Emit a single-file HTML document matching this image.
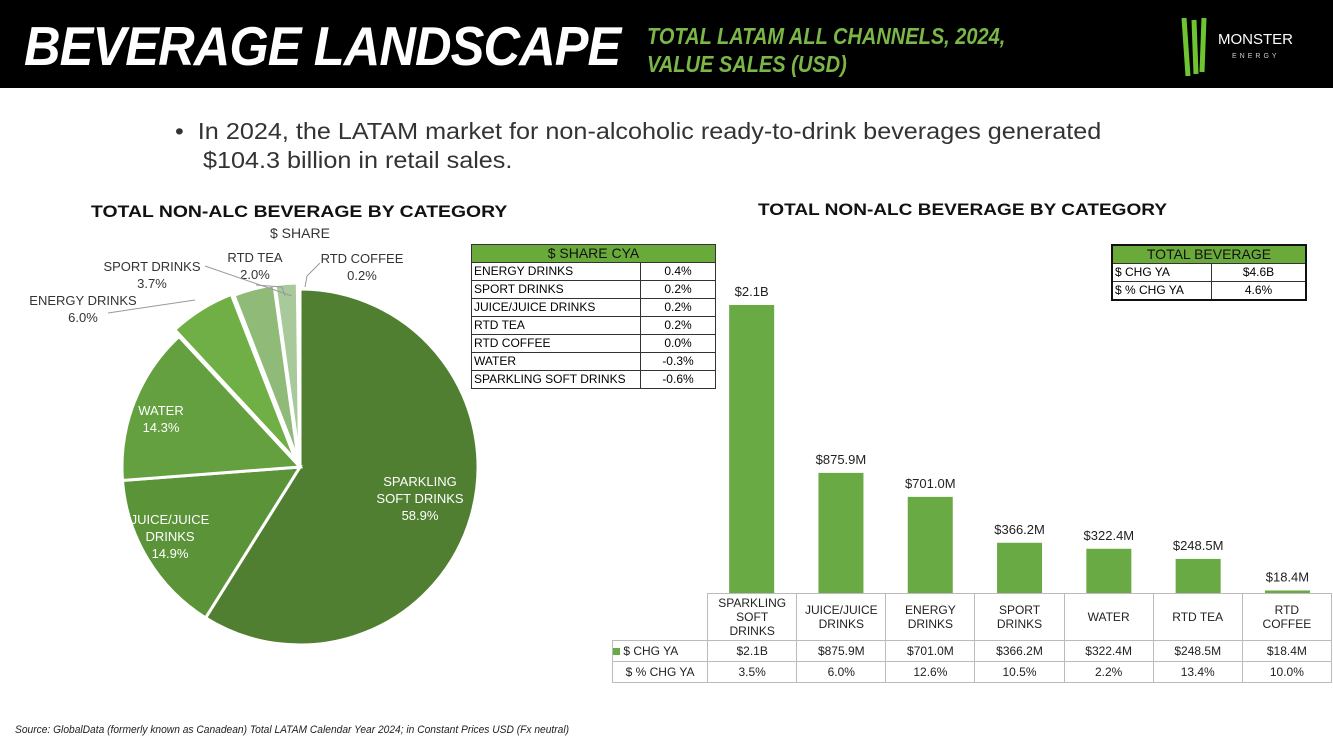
<!DOCTYPE html>
<html><head><meta charset="utf-8"><style>
body{margin:0;width:1333px;height:749px;overflow:hidden;background:#fff;font-family:"Liberation Sans",sans-serif;position:relative}
.abs{position:absolute}
table{border-collapse:collapse}
.t1 td{border:1px solid #333;font-size:12px;height:17px;padding:0 2px;line-height:17px}
.t3{table-layout:fixed}
.t3 td{border:1px solid #bbb;font-size:12px;text-align:center;color:#222;padding:0}
</style></head><body>
<div class="abs" style="left:0;top:0;width:1333px;height:88px;background:#000"></div>
<div class="abs" style="left:24px;top:14px;color:#fff;font-size:55px;font-weight:bold;font-style:italic;letter-spacing:-1px;transform:scaleX(0.92);transform-origin:left">BEVERAGE LANDSCAPE</div>
<div class="abs" style="left:647px;top:22px;color:#7ab648;font-size:23px;font-weight:bold;font-style:italic;line-height:28px;transform:scaleX(0.87);transform-origin:left">TOTAL LATAM ALL CHANNELS, 2024,<br>VALUE SALES (USD)</div>
<div class="abs" style="left:1178px;top:16px;width:140px;height:62px">
<svg width="140" height="62"><path d="M6 2 L10 60 M16 4 L18 58 M26 2 L24 56" stroke="#6ec531" stroke-width="5" fill="none"/><text x="40" y="28" fill="#fff" font-size="15" font-family="Liberation Sans">MONSTER</text><text x="54" y="42" fill="#ccc" font-size="7" letter-spacing="3">ENERGY</text></svg></div>
<div class="abs" style="left:175px;top:117px;font-size:23px;color:#333;line-height:29px;transform:scaleX(1.095);transform-origin:left">•&nbsp;&nbsp;In 2024, the LATAM market for non-alcoholic ready-to-drink beverages generated<br>&nbsp;&nbsp;&nbsp;&nbsp;$104.3 billion in retail sales.</div>
<div class="abs" style="left:91px;top:202px;font-size:17px;font-weight:bold;color:#111;transform:scaleX(1.14);transform-origin:left">TOTAL NON-ALC BEVERAGE BY CATEGORY</div>
<div class="abs" style="left:270px;top:225px;font-size:14px;color:#333">$ SHARE</div>
<div class="abs" style="left:758px;top:200px;font-size:17px;font-weight:bold;color:#111;transform:scaleX(1.12);transform-origin:left">TOTAL NON-ALC BEVERAGE BY CATEGORY</div>
<svg class="abs" id="pie" style="left:0;top:0" width="620" height="700"></svg>
<svg class="abs" id="bars" style="left:0;top:0" width="1333" height="700"></svg>
<table class="abs t1" style="left:471px;top:244px;width:245px">
<tr><td colspan="2" style="background:#6aaa3a;text-align:center;font-size:14px;color:#111">$ SHARE CYA</td></tr>
<tr><td>ENERGY DRINKS</td><td style="text-align:center;width:70px">0.4%</td></tr>
<tr><td>SPORT DRINKS</td><td style="text-align:center">0.2%</td></tr>
<tr><td>JUICE/JUICE DRINKS</td><td style="text-align:center">0.2%</td></tr>
<tr><td>RTD TEA</td><td style="text-align:center">0.2%</td></tr>
<tr><td>RTD COFFEE</td><td style="text-align:center">0.0%</td></tr>
<tr><td>WATER</td><td style="text-align:center">-0.3%</td></tr>
<tr><td>SPARKLING SOFT DRINKS</td><td style="text-align:center">-0.6%</td></tr>
</table>
<table class="abs t1" style="left:1111px;top:244px;width:196px;border:2px solid #111">
<tr><td colspan="2" style="background:#6aaa3a;text-align:center;font-size:14px;color:#111">TOTAL BEVERAGE</td></tr>
<tr><td style="width:94px">$ CHG YA</td><td style="text-align:center">$4.6B</td></tr>
<tr><td>$ % CHG YA</td><td style="text-align:center">4.6%</td></tr>
</table>
<table class="abs t3" id="dt" style="left:612px;top:593px;width:720px"></table>
<div class="abs" style="left:15px;top:724px;font-size:11px;font-style:italic;color:#222;transform:scaleX(0.93);transform-origin:left">Source: GlobalData (formerly known as Canadean) Total LATAM Calendar Year 2024; in Constant Prices USD (Fx neutral)</div>
<script>
const pieCats=["SPARKLING SOFT DRINKS","JUICE/JUICE DRINKS","WATER","ENERGY DRINKS","SPORT DRINKS","RTD TEA","RTD COFFEE"];
const pieVals=[58.9,14.9,14.3,6.0,3.7,2.0,0.2];
const barCats=["SPARKLING SOFT DRINKS","JUICE/JUICE DRINKS","ENERGY DRINKS","SPORT DRINKS","WATER","RTD TEA","RTD COFFEE"];
const barVals=[2100,875.9,701.0,366.2,322.4,248.5,18.4];
const barLabels=["$2.1B","$875.9M","$701.0M","$366.2M","$322.4M","$248.5M","$18.4M"];
const pctVals=["3.5%","6.0%","12.6%","10.5%","2.2%","13.4%","10.0%"];
const NS="http://www.w3.org/2000/svg";
function mk(p,t,a){const e=document.createElementNS(NS,t);for(const k in a)e.setAttribute(k,a[k]);p.appendChild(e);return e;}
const pie=document.getElementById('pie');
const cols=["#507f32","#5b9339","#64a03f","#70ae46","#8fba78","#a8c99a","#c5dcb5"];
const explode=[0,0,0,8,6,6,4];
const cx=300,cy=467,R=178;
const total=pieVals.reduce((a,b)=>a+b,0);
let acc=0;
pieVals.forEach((v,i)=>{
  const a0=acc/total*2*Math.PI, a1=(acc+v)/total*2*Math.PI; acc+=v;
  const am=(a0+a1)/2, ox=Math.sin(am)*explode[i], oy=-Math.cos(am)*explode[i];
  const x0=cx+ox+R*Math.sin(a0),y0=cy+oy-R*Math.cos(a0),x1=cx+ox+R*Math.sin(a1),y1=cy+oy-R*Math.cos(a1);
  const p=mk(pie,'path',{d:`M${cx+ox},${cy+oy} L${x0},${y0} A${R},${R} 0 ${a1-a0>Math.PI?1:0} 1 ${x1},${y1} Z`,fill:cols[i],stroke:'#fff','stroke-width':3});
  
  
});
const pl=[[420,486,"SPARKLING","SOFT DRINKS","58.9%","#fff"],[170,524,"JUICE/JUICE","DRINKS","14.9%","#fff"],[161,415,"WATER","14.3%","","#fff"],[83,305,"ENERGY DRINKS","6.0%","","#333"],[152,271,"SPORT DRINKS","3.7%","","#333"],[255,262,"RTD TEA","2.0%","","#333"],[362,263,"RTD COFFEE","0.2%","","#333"]];
pl.forEach((l,i)=>{for(let k=2;k<5;k++){if(!l[k])continue;const t=mk(pie,'text',{x:l[0],y:l[1]+(k-2)*17,'text-anchor':'middle','font-size':13,fill:l[5],'font-family':'Liberation Sans'});t.textContent=l[k];}});
[["M108,313 L195,300"],["M205,266 L292,296"],["M256,285 L282,287 L285,296"],["M320,263 L307,276 L305,287"]].forEach(d=>{const e=mk(pie,'path',{d:d[0],stroke:'#999',fill:'none','stroke-width':1});});
const bs=document.getElementById('bars');
const base=593,maxH=288,maxV=2100,x0=707,cw=89.3,bw=45;
const y=v=>base-v/maxV*maxH;
barVals.forEach((v,i)=>{
  const cxp=x0+cw*(i+0.5);
  const r=mk(bs,'rect',{x:cxp-bw/2,y:y(v),width:bw,height:base-y(v),fill:'#6aaa45'});
  
  
  const t=mk(bs,'text',{x:cxp,y:y(v)-9,'text-anchor':'middle','font-size':13,fill:'#222','font-family':'Liberation Sans'});
  t.textContent=barLabels[i];
  
  
});
const dt=document.getElementById('dt');
let h='<colgroup><col style="width:95px">'+barCats.map(()=>'<col style="width:89px">').join('')+'</colgroup>';
h+='<tr style="height:47px"><td style="border:none"></td>'+barCats.map(c=>'<td style="font-size:12px;line-height:14px">'+(c==="SPARKLING SOFT DRINKS"?"SPARKLING<br>SOFT<br>DRINKS":c.replace(" DRINKS","<br>DRINKS").replace("RTD COFFEE","RTD<br>COFFEE"))+'</td>').join('')+'</tr>';
h+='<tr style="height:21px"><td style="text-align:left"><span style="display:inline-block;width:7px;height:7px;background:#6aaa45"></span> $ CHG YA</td>'+barLabels.map(l=>'<td>'+l+'</td>').join('')+'</tr>';
h+='<tr style="height:21px"><td>$ % CHG YA</td>'+pctVals.map(l=>'<td>'+l+'</td>').join('')+'</tr>';
dt.innerHTML=h;
</script>
</body></html>
